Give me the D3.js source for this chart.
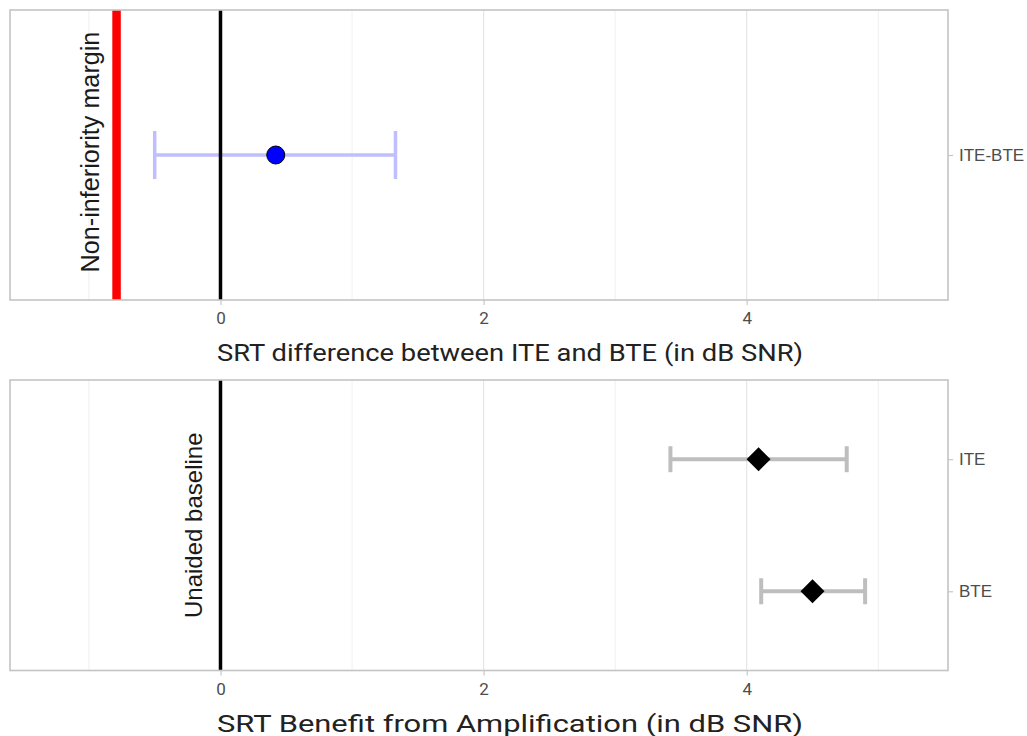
<!DOCTYPE html>
<html>
<head>
<meta charset="utf-8">
<script src="https://cdn.jsdelivr.net/npm/d3@7.9.0/dist/d3.min.js"></script>
<style>
  body { margin: 0; background: #fff; }
  svg { display: block; }
</style>
</head>
<body>
<div id="chart"></div>
<script>
// --- data ---
const xDomain = [-1.6, 5.53];
const xTicks = [0, 2, 4];

// top panel: ITE minus BTE
const diffCats = ["ITE-BTE"];
const diffEst = [0.42];
const diffLow = [-0.5];
const diffHigh = [1.33];
const margin = -0.79; // non-inferiority margin

// bottom panel: benefit from amplification
const benefitCats = ["ITE", "BTE"];
const benefitEst = [4.09, 4.5];
const benefitLow = [3.42, 4.11];
const benefitHigh = [4.76, 4.9];

const W = 1027, H = 736;
const svg = d3.select("#chart").append("svg").attr("width", W).attr("height", H);

const left = 10, right = 948;
const x = d3.scaleLinear().domain(xDomain).range([left, right]);

// draw one ggplot-like panel
function panel(top, bottom, cats, title) {
  const g = svg.append("g");
  const y = d3.scalePoint().domain(cats).range([top, bottom]).padding(0.6);
  if (cats.length === 1) y.padding(0.5);

  // grid: minor and major
  const minor = [-1, 1, 3, 5];
  g.selectAll(".minor").data(minor).enter().append("line")
    .attr("x1", d => x(d)).attr("x2", d => x(d))
    .attr("y1", top).attr("y2", bottom)
    .attr("stroke", "#ececec").attr("stroke-width", 0.8);
  g.selectAll(".major").data(xTicks).enter().append("line")
    .attr("x1", d => x(d)).attr("x2", d => x(d))
    .attr("y1", top).attr("y2", bottom)
    .attr("stroke", "#e3e3e3").attr("stroke-width", 1.1);

  // x axis
  const xa = g.append("g").attr("transform", `translate(0,${bottom})`)
    .call(d3.axisBottom(x).tickValues(xTicks).tickSize(5).tickPadding(7).tickFormat(d3.format("d")))
    .attr("font-family", "Roboto, sans-serif").attr("font-size", 17);
  xa.select(".domain").remove();
  xa.selectAll(".tick line").attr("stroke", "#c4c4c4").attr("stroke-width", 1.1);
  xa.selectAll(".tick text").attr("fill", "#4d4d4d");

  // y axis on the right
  const ya = g.append("g").attr("transform", `translate(${right},0)`)
    .call(d3.axisRight(y).tickSize(5).tickPadding(6))
    .attr("font-family", "'Liberation Sans', Arial, sans-serif").attr("font-size", 17);
  ya.select(".domain").remove();
  ya.selectAll(".tick line").attr("stroke", "#c4c4c4").attr("stroke-width", 1.1);
  ya.selectAll(".tick text").attr("fill", "#4d4d4d");

  // axis title
  svg.append("text")
    .attr("x", 510).attr("y", bottom + 61)
    .attr("text-anchor", "middle")
    .attr("fill", "#222")
    .attr("textLength", 586)
    .attr("lengthAdjust", "spacingAndGlyphs")
    .style("font-family", "Roboto, sans-serif")
    .style("font-size", "24px")
    .text(title);

  return { g, y, top, bottom };
}

// ---------- top panel ----------
const p1 = panel(10, 300, diffCats, "SRT difference between ITE and BTE (in dB SNR)");

p1.g.append("line")
  .attr("x1", x(margin)).attr("x2", x(margin))
  .attr("y1", p1.top).attr("y2", p1.bottom)
  .attr("stroke", "#ff0000").attr("stroke-width", 8.5);

p1.g.append("text")
  .attr("transform", `translate(${x(margin) - 18},${(p1.top + p1.bottom) / 2 - 3}) rotate(-90)`)
  .attr("text-anchor", "middle")
  .attr("fill", "#1a1a1a")
  .style("font-family", "'Liberation Sans', Arial, sans-serif")
  .style("font-size", "25.2px")
  .text("Non-inferiority margin");

const diff = diffCats.map((c, i) => ({ c, est: diffEst[i], lo: diffLow[i], hi: diffHigh[i] }));
const eb1 = p1.g.selectAll(".eb").data(diff).enter().append("g").attr("stroke", "#bfbfff").attr("stroke-width", 3.5);
eb1.append("line").attr("x1", d => x(d.lo)).attr("x2", d => x(d.hi))
  .attr("y1", d => p1.y(d.c)).attr("y2", d => p1.y(d.c));
eb1.append("line").attr("x1", d => x(d.lo)).attr("x2", d => x(d.lo))
  .attr("y1", d => p1.y(d.c) - 24).attr("y2", d => p1.y(d.c) + 24);
eb1.append("line").attr("x1", d => x(d.hi)).attr("x2", d => x(d.hi))
  .attr("y1", d => p1.y(d.c) - 24).attr("y2", d => p1.y(d.c) + 24);

p1.g.append("line")
  .attr("x1", x(0)).attr("x2", x(0))
  .attr("y1", p1.top).attr("y2", p1.bottom)
  .attr("stroke", "#000").attr("stroke-width", 3.5);

p1.g.selectAll(".pt").data(diff).enter().append("circle")
  .attr("cx", d => x(d.est)).attr("cy", d => p1.y(d.c)).attr("r", 9)
  .attr("fill", "#0000ff").attr("stroke", "#000").attr("stroke-width", 1);

// ---------- bottom panel ----------
const p2 = panel(380, 670.5, benefitCats, "SRT Benefit from Amplification (in dB SNR)");

p2.g.append("line")
  .attr("x1", x(0)).attr("x2", x(0))
  .attr("y1", p2.top).attr("y2", p2.bottom)
  .attr("stroke", "#000").attr("stroke-width", 3.5);

p2.g.append("text")
  .attr("transform", `translate(${x(0) - 18},${(p2.top + p2.bottom) / 2}) rotate(-90)`)
  .attr("text-anchor", "middle")
  .attr("fill", "#1a1a1a")
  .style("font-family", "'Liberation Sans', Arial, sans-serif")
  .style("font-size", "24px")
  .text("Unaided baseline");

const benefit = benefitCats.map((c, i) => ({ c, est: benefitEst[i], lo: benefitLow[i], hi: benefitHigh[i] }));
const eb2 = p2.g.selectAll(".eb").data(benefit).enter().append("g").attr("stroke", "#bebebe").attr("stroke-width", 4);
eb2.append("line").attr("x1", d => x(d.lo)).attr("x2", d => x(d.hi))
  .attr("y1", d => p2.y(d.c)).attr("y2", d => p2.y(d.c));
eb2.append("line").attr("x1", d => x(d.lo)).attr("x2", d => x(d.lo))
  .attr("y1", d => p2.y(d.c) - 13).attr("y2", d => p2.y(d.c) + 13);
eb2.append("line").attr("x1", d => x(d.hi)).attr("x2", d => x(d.hi))
  .attr("y1", d => p2.y(d.c) - 13).attr("y2", d => p2.y(d.c) + 13);

const diamond = d3.symbol().type(d3.symbolSquare).size(288);
p2.g.selectAll(".pt").data(benefit).enter().append("path")
  .attr("d", diamond)
  .attr("transform", d => `translate(${x(d.est)},${p2.y(d.c)}) rotate(45)`)
  .attr("fill", "#000");

// panel borders on top
[p1, p2].forEach(p => {
  svg.append("rect")
    .attr("x", left).attr("y", p.top)
    .attr("width", right - left).attr("height", p.bottom - p.top)
    .attr("fill", "none").attr("stroke", "#c4c4c4").attr("stroke-width", 1.6);
});
</script>
</body>
</html>
